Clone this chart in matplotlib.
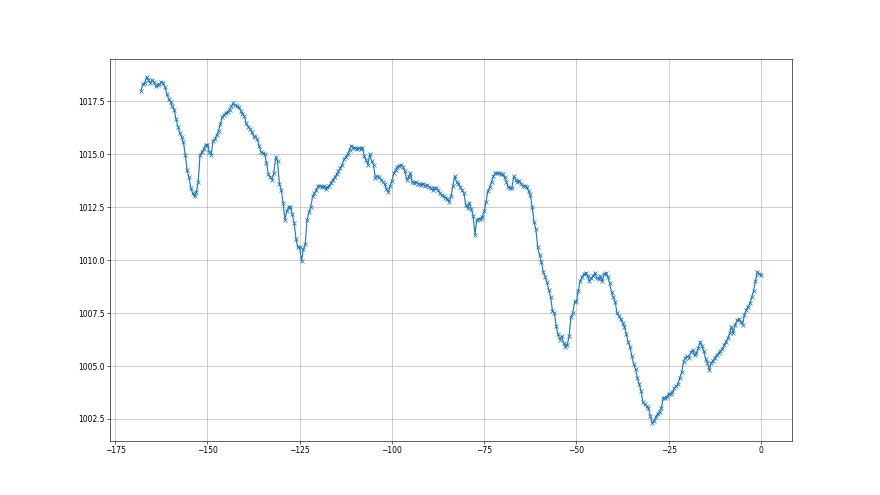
import numpy as np
import matplotlib
matplotlib.use("Agg")
import matplotlib.pyplot as plt
from matplotlib.ticker import MultipleLocator, FormatStrFormatter

# Pressure readings every half hour, from -168 h to 0 h
pressure = [
    1018.0, 1018.3, 1018.35, 1018.65, 1018.5, 1018.35, 1018.5, 1018.4, 1018.2, 1018.25,
    1018.3, 1018.4, 1018.35, 1018.15, 1017.85, 1017.6, 1017.45, 1017.25, 1017.1, 1016.65,
    1016.3, 1016.0, 1015.8, 1015.55, 1014.95, 1014.25, 1013.9, 1013.4, 1013.15, 1013.0,
    1013.2, 1013.7, 1014.95, 1015.1, 1015.25, 1015.45, 1015.45, 1015.1, 1014.95, 1015.6,
    1015.7, 1015.9, 1016.1, 1016.4, 1016.75, 1016.85, 1016.95, 1017.0, 1017.1, 1017.25,
    1017.4, 1017.3, 1017.25, 1017.2, 1017.05, 1016.9, 1016.8, 1016.45, 1016.3, 1016.2,
    1016.05, 1015.85, 1015.8, 1015.7, 1015.4, 1015.1, 1015.05, 1015.0, 1014.6, 1014.05,
    1013.9, 1013.8, 1014.1, 1014.85, 1014.65, 1013.6, 1013.3, 1012.7, 1011.9, 1012.3,
    1012.5, 1012.5, 1012.15, 1011.75, 1011.0, 1010.6, 1010.6, 1009.95, 1010.5, 1010.75,
    1011.9, 1012.25, 1012.5, 1013.0, 1013.15, 1013.3, 1013.5, 1013.5, 1013.45, 1013.5,
    1013.35, 1013.45, 1013.5, 1013.65, 1013.8, 1013.9, 1014.05, 1014.2, 1014.35, 1014.5,
    1014.75, 1014.85, 1015.0, 1015.2, 1015.4, 1015.3, 1015.3, 1015.25, 1015.3, 1015.25,
    1015.3, 1014.9, 1014.7, 1014.5, 1015.0, 1014.65, 1014.5, 1013.85, 1013.95, 1013.9,
    1013.8, 1013.7, 1013.6, 1013.35, 1013.2, 1013.5, 1013.75, 1014.1, 1014.25, 1014.4,
    1014.45, 1014.5, 1014.4, 1014.2, 1013.8, 1013.9, 1014.1, 1013.7, 1013.65, 1013.7,
    1013.6, 1013.6, 1013.55, 1013.6, 1013.5, 1013.55, 1013.45, 1013.4, 1013.3, 1013.4,
    1013.4, 1013.3, 1013.15, 1013.05, 1013.0, 1012.95, 1012.9, 1012.75, 1013.0, 1013.5,
    1013.95, 1013.7, 1013.6, 1013.45, 1013.3, 1013.15, 1012.6, 1012.45, 1012.7, 1012.4,
    1012.1, 1011.2, 1011.9, 1011.95, 1011.95, 1012.05, 1012.3, 1012.75, 1013.25, 1013.45,
    1013.7, 1013.95, 1014.1, 1014.1, 1014.1, 1014.05, 1014.05, 1013.9, 1013.7, 1013.45,
    1013.4, 1013.4, 1013.95, 1013.8, 1013.7, 1013.75, 1013.6, 1013.5, 1013.5, 1013.45,
    1013.25, 1013.05, 1012.5, 1011.8, 1011.45, 1010.6, 1010.25, 1009.9, 1009.45, 1009.2,
    1008.95, 1008.6, 1008.25, 1007.6, 1007.5, 1006.9, 1006.5, 1006.25, 1006.4, 1006.1,
    1005.9, 1006.0, 1006.4, 1007.3, 1007.5, 1008.0, 1008.05, 1008.55, 1009.0, 1009.2,
    1009.35, 1009.4, 1009.25, 1009.0, 1009.15, 1009.25, 1009.4, 1009.15, 1009.1, 1009.25,
    1009.0, 1009.35, 1009.4, 1009.2, 1008.9, 1008.5, 1008.25, 1008.0, 1007.5, 1007.35,
    1007.2, 1007.05, 1006.85, 1006.5, 1006.15, 1005.9, 1005.45, 1005.1, 1004.85, 1004.45,
    1004.15, 1003.8, 1003.3, 1003.2, 1003.1, 1003.0, 1002.65, 1002.3, 1002.4, 1002.6,
    1002.75, 1002.85, 1003.0, 1003.5, 1003.5, 1003.55, 1003.7, 1003.7, 1003.75, 1003.95,
    1004.05, 1004.15, 1004.45, 1004.7, 1005.2, 1005.4, 1005.45, 1005.4, 1005.65, 1005.75,
    1005.5, 1005.6, 1005.85, 1006.15, 1005.95, 1005.7, 1005.35, 1005.15, 1004.8, 1005.15,
    1005.25, 1005.4, 1005.5, 1005.6, 1005.7, 1005.8, 1006.0, 1006.15, 1006.3, 1006.55,
    1006.85, 1006.55, 1006.95, 1007.15, 1007.2, 1007.1, 1006.95, 1007.4, 1007.65, 1007.8,
    1007.95, 1008.25, 1008.55, 1009.0, 1009.45, 1009.35, 1009.3,
]
step_hours = 0.5
hours = (np.arange(len(pressure)) - (len(pressure) - 1)) * step_hours

fig, ax = plt.subplots(figsize=(16, 9), dpi=55)
ax.plot(hours, pressure, marker='x', color='#1f77b4', linewidth=1.5, markersize=6)
ax.yaxis.set_major_locator(MultipleLocator(2.5))
ax.yaxis.set_major_formatter(FormatStrFormatter('%.1f'))
ax.xaxis.set_major_locator(MultipleLocator(25))
ax.grid(True)
fig.savefig("out.png", dpi=55)
